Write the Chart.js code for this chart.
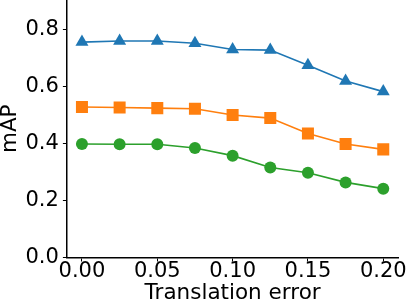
<!DOCTYPE html>
<html>
<head>
<meta charset="utf-8">
<script src="https://cdn.jsdelivr.net/npm/chart.js@4/dist/chart.umd.min.js"></script>
<style>
  html, body { margin: 0; padding: 0; background: #fff; }
  #wrap { width: 407px; height: 304px; }
</style>
</head>
<body>
<div id="wrap"><canvas id="mapChart"></canvas></div>
<script>
// Translation error values on the x axis
const errors = [0.0, 0.025, 0.05, 0.075, 0.1, 0.125, 0.15, 0.175, 0.2];
// mAP for each curve
const blueMap = [0.757, 0.761, 0.761, 0.753, 0.731, 0.729, 0.676, 0.620, 0.583];
const orangeMap = [0.529, 0.527, 0.525, 0.523, 0.501, 0.490, 0.436, 0.399, 0.380];
const greenMap = [0.399, 0.398, 0.398, 0.385, 0.358, 0.316, 0.298, 0.264, 0.242];
// tick labels
const xTicks = [0, 0.05, 0.1, 0.15, 0.2];
const yTicks = [0, 0.2, 0.4, 0.6, 0.8];

const font = { family: 'DejaVu Sans', size: 21, lineHeight: 1 };
const titleFont = { family: 'DejaVu Sans', size: 21.5, lineHeight: 1 };

function toPoints(values) {
  return values.map((v, i) => ({ x: errors[i], y: v }));
}

function series(values, color, style, radius) {
  return {
    data: toPoints(values),
    borderColor: color,
    backgroundColor: color,
    borderWidth: 1.6,
    pointStyle: style,
    pointRadius: radius,
    pointBorderWidth: 0,
    pointBackgroundColor: color,
    tension: 0
  };
}

new Chart(document.getElementById('mapChart'), {
  type: 'line',
  data: {
    datasets: [
      series(blueMap, '#1f77b4', 'triangle', 7.5),
      series(orangeMap, '#ff7f0e', 'rect', 8.5),
      series(greenMap, '#2ca02c', 'circle', 6)
    ]
  },
  options: {
    responsive: true,
    maintainAspectRatio: false,
    animation: false,
    layout: { autoPadding: false, padding: { top: 0, right: 8, left: 0, bottom: 0 } },
    plugins: {
      legend: { display: false },
      tooltip: { enabled: false }
    },
    scales: {
      x: {
        type: 'linear',
        min: -0.01,
        max: 0.21,
        afterBuildTicks: axis => { axis.ticks = xTicks.map(v => ({ value: v })); },
        ticks: {
          color: '#000',
          font: font,
          padding: 0,
          maxRotation: 0,
          callback: v => v.toFixed(2)
        },
        grid: { drawOnChartArea: false, drawTicks: true, tickLength: 4, tickColor: '#000', tickWidth: 1 },
        border: { display: true, color: '#000', width: 1.5 },
        title: { display: true, text: 'Translation error', color: '#000', font: titleFont, padding: { top: 0, bottom: 0 } }
      },
      y: {
        min: 0,
        max: 0.905,
        afterBuildTicks: axis => { axis.ticks = yTicks.map(v => ({ value: v })); },
        // the top tick sits well below the axis end, so no room is needed above it
        afterFit: axis => { axis.paddingTop = 0; },
        ticks: {
          color: '#000',
          font: font,
          padding: 4,
          callback: v => v.toFixed(1)
        },
        grid: { drawOnChartArea: false, drawTicks: true, tickLength: 4, tickColor: '#000', tickWidth: 1 },
        border: { display: true, color: '#000', width: 1.5 },
        title: { display: true, text: 'mAP', color: '#000', font: titleFont, padding: { top: 0, bottom: 0 } }
      }
    }
  }
});
</script>
</body>
</html>
